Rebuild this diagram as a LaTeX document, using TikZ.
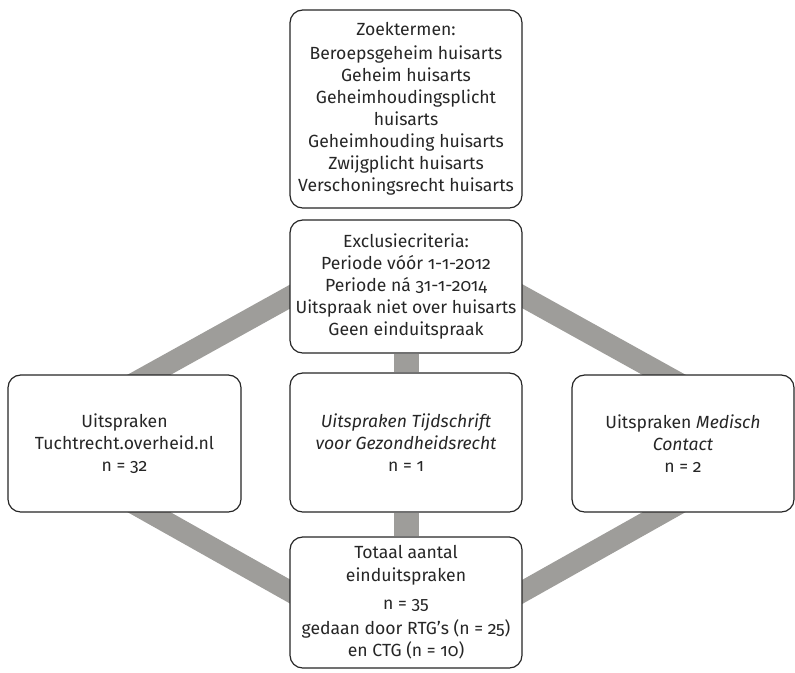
\documentclass[tikz,border=0pt]{standalone}
\usepackage{fontspec}
\setmainfont{Fira Sans}[Numbers=OldStyle]
\usetikzlibrary{backgrounds}
\definecolor{bandgray}{RGB}{158,157,154}
\definecolor{ink}{RGB}{38,38,38}
\begin{document}
\begin{tikzpicture}[x=0.75pt,y=-0.75pt,
  box/.style={draw=ink, line width=0.9pt, rounded corners=9.5pt, fill=white,
    align=center, inner sep=0pt, text=ink, font=\fontsize{13.2}{16.6}\selectfont},
  dband/.style={draw=bandgray, line width=15.75pt},
  vband/.style={draw=bandgray, line width=18.75pt}]
\useasboundingbox (0,0) rectangle (795,672);

\node[box, minimum width=174pt, minimum height=148.5pt] (zoek) at (406,109)
  {Zoektermen:\\[1pt]
   Beroepsgeheim huisarts\\
   Geheim huisarts\\
   Geheimhoudingsplicht\\
   huisarts\\
   Geheimhouding huisarts\\
   Zwijgplicht huisarts\\
   Verschoningsrecht huisarts};

\node[box, minimum width=174pt, minimum height=99.75pt] (excl) at (406,286.5)
  {Exclusiecriteria:\\
   Periode vóór 1-1-2012\\
   Periode ná 31-1-2014\\
   Uitspraak niet over huisarts\\
   Geen einduitspraak};

\node[box, minimum width=174.75pt, minimum height=102.75pt] (left) at (124.5,443.5)
  {Uitspraken\\
   Tuchtrecht.overheid.nl\\
   n = 32};

\node[box, minimum width=174pt, minimum height=104.25pt] (mid) at (406,442.5)
  {\textit{Uitspraken Tijdschrift}\\
   \textit{voor Gezondheidsrecht}\\
   n = 1};

\node[box, minimum width=166.5pt, minimum height=102.75pt] (right) at (683,443.5)
  {Uitspraken \textit{Medisch}\\
   \textit{Contact}\\
   n = 2};

\node[box, minimum width=174pt, minimum height=98.25pt] (tot) at (406,602.5)
  {Totaal aantal\\
   einduitspraken\\[5pt]
   n = 35\\[2pt]
   gedaan door RTG’s (n = 25)\\
   en CTG (n = 10)};

\coordinate (dT) at (406.5,232);
\coordinate (dL) at (26,443);
\coordinate (dR) at (787,443);
\coordinate (dB) at (406.5,657);

\begin{scope}[on background layer]
  \draw[dband] (dT) -- (dL);
  \draw[dband] (dT) -- (dR);
  \draw[dband] (dL) -- (dB);
  \draw[dband] (dR) -- (dB);
  \draw[vband] (excl.south) -- (mid.north);
  \draw[vband] (mid.south) -- (tot.north);
\end{scope}
\end{tikzpicture}
\end{document}
